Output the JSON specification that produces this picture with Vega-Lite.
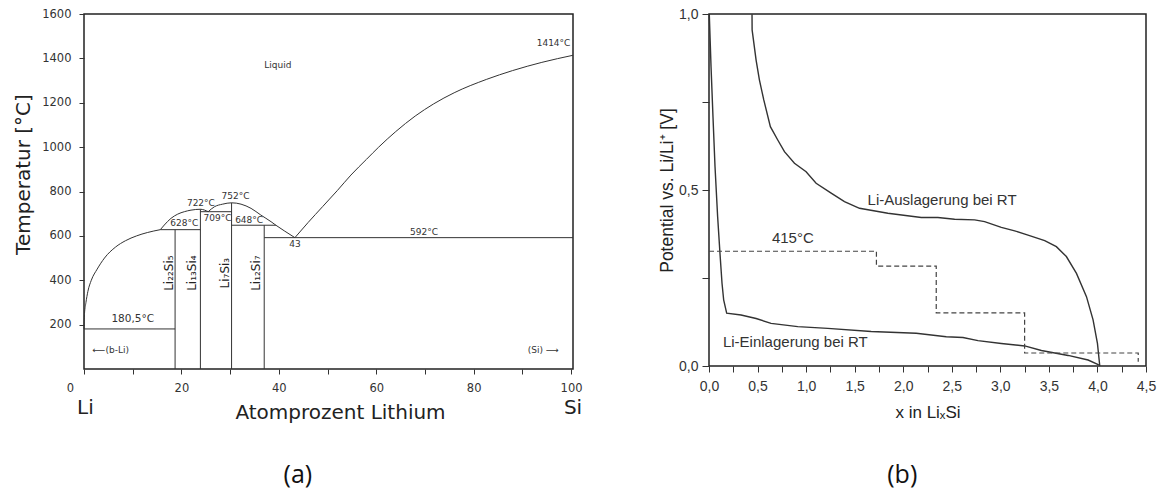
{
  "$schema": "https://vega.github.io/schema/vega-lite/v6.json",
  "padding": {"left": 12, "top": 6, "right": 5, "bottom": 0},
  "background": "white",
  "spacing": 136,
  "bounds": "flush",
  "config": {
    "view": {"stroke": "#222", "strokeWidth": 1.5},
    "axis": {"grid": false, "domain": false, "tickColor": "#333", "labelColor": "#333", "titleColor": "#222", "titleFontWeight": "normal"}
  },
  "hconcat": [
    {
      "width": 489,
      "height": 355,
      "encoding": {
        "x": {"field": "x", "type": "quantitative", "scale": {"domain": [0, 100.4], "nice": false, "zero": false},
          "axis": {"values": [0, 10, 20, 30, 40, 50, 60, 70, 80, 90, 100],
            "labelExpr": "datum.value % 20 == 0 ? datum.label : ''",
            "labelFont": "DejaVu Sans", "labelFontSize": 11.5, "labelFlush": false,
            "labelOffset": {"expr": "datum.value == 0 ? -14 : 0"},
            "tickSize": 5, "labelPadding": 8,
            "title": "Atomprozent Lithium", "titleFont": "DejaVu Sans", "titleFontSize": 20,
            "titleX": 256, "titleY": 49, "titleBaseline": "alphabetic", "titleAlign": "center"}},
        "y": {"field": "T", "type": "quantitative", "scale": {"domain": [0, 1600], "nice": false, "zero": false},
          "axis": {"values": [200, 400, 600, 800, 1000, 1200, 1400, 1600], "format": "d",
            "labelFont": "DejaVu Sans", "labelFontSize": 11.5, "tickSize": 5, "labelPadding": 8,
            "title": "Temperatur [°C]", "titleFont": "DejaVu Sans", "titleFontSize": 20,
            "titleX": -51, "titleY": 160, "titleBaseline": "bottom", "titleAlign": "center", "titleAngle": -90}}
      },
      "layer": [
        {
          "data": {"values": [
            {"seg": "A", "x": 0, "T": 180.5}, {"seg": "A", "x": 0.1, "T": 250}, {"seg": "A", "x": 0.4, "T": 300},
            {"seg": "A", "x": 0.8, "T": 350}, {"seg": "A", "x": 1.5, "T": 400}, {"seg": "A", "x": 2.7, "T": 450},
            {"seg": "A", "x": 4.2, "T": 500}, {"seg": "A", "x": 6.5, "T": 550}, {"seg": "A", "x": 8.5, "T": 578},
            {"seg": "A", "x": 10.8, "T": 600}, {"seg": "A", "x": 13, "T": 615}, {"seg": "A", "x": 15.67, "T": 628},
            {"seg": "B", "x": 15.67, "T": 628}, {"seg": "B", "x": 16.49, "T": 649}, {"seg": "B", "x": 17.86, "T": 679},
            {"seg": "B", "x": 19.24, "T": 698}, {"seg": "B", "x": 20.6, "T": 709}, {"seg": "B", "x": 21.97, "T": 716},
            {"seg": "B", "x": 23.9, "T": 720}, {"seg": "B", "x": 25.5, "T": 709},
            {"seg": "D", "x": 25.5, "T": 709}, {"seg": "D", "x": 26.76, "T": 731}, {"seg": "D", "x": 28.47, "T": 743},
            {"seg": "D", "x": 30.3, "T": 749}, {"seg": "D", "x": 32.24, "T": 743}, {"seg": "D", "x": 34.3, "T": 724},
            {"seg": "D", "x": 36.3, "T": 694}, {"seg": "D", "x": 38.4, "T": 664}, {"seg": "D", "x": 39.4, "T": 648},
            {"seg": "D", "x": 41.1, "T": 623}, {"seg": "D", "x": 43.3, "T": 592},
            {"seg": "E", "x": 43.3, "T": 592}, {"seg": "E", "x": 46, "T": 660}, {"seg": "E", "x": 49, "T": 732},
            {"seg": "E", "x": 52, "T": 804}, {"seg": "E", "x": 54.8, "T": 874}, {"seg": "E", "x": 58, "T": 945},
            {"seg": "E", "x": 60.5, "T": 1000}, {"seg": "E", "x": 64, "T": 1070}, {"seg": "E", "x": 68, "T": 1140},
            {"seg": "E", "x": 71.8, "T": 1195}, {"seg": "E", "x": 76, "T": 1245}, {"seg": "E", "x": 82.6, "T": 1305},
            {"seg": "E", "x": 88, "T": 1345}, {"seg": "E", "x": 94, "T": 1382}, {"seg": "E", "x": 100.4, "T": 1414}
          ]},
          "mark": {"type": "line", "interpolate": "monotone", "color": "#333", "strokeWidth": 1},
          "encoding": {"detail": {"field": "seg"}}
        },
        {
          "data": {"values": [
            {"x": 18.7, "x2": 18.7, "T": 0, "T2": 628},
            {"x": 23.9, "x2": 23.9, "T": 0, "T2": 720},
            {"x": 30.3, "x2": 30.3, "T": 0, "T2": 749},
            {"x": 37.0, "x2": 37.0, "T": 0, "T2": 648},
            {"x": 0, "x2": 18.7, "T": 180.5, "T2": 180.5},
            {"x": 15.67, "x2": 23.9, "T": 628, "T2": 628},
            {"x": 23.9, "x2": 30.3, "T": 709, "T2": 709},
            {"x": 30.3, "x2": 39.4, "T": 648, "T2": 648},
            {"x": 37.0, "x2": 100.4, "T": 592, "T2": 592}
          ]},
          "mark": {"type": "rule", "color": "#333", "strokeWidth": 1},
          "encoding": {"x2": {"field": "x2"}, "y2": {"field": "T2"}}
        },
        {
          "data": {"values": [
            {"x": 39.8, "T": 1370, "label": "Liquid"},
            {"x": 96.4, "T": 1468, "label": "1414°C"},
            {"x": 24.0, "T": 749, "label": "722°C"},
            {"x": 31.1, "T": 780, "label": "752°C"},
            {"x": 20.6, "T": 656, "label": "628°C"},
            {"x": 27.4, "T": 679, "label": "709°C"},
            {"x": 33.9, "T": 671, "label": "648°C"},
            {"x": 43.3, "T": 563, "label": "43"},
            {"x": 69.8, "T": 616, "label": "592°C"},
            {"x": 5.5, "T": 86, "label": "⟵(b-Li)"},
            {"x": 94.3, "T": 86, "label": "(Si)   ⟶"}
          ]},
          "mark": {"type": "text", "font": "DejaVu Sans", "fontSize": 9, "color": "#333", "baseline": "middle", "align": "center"},
          "encoding": {"text": {"field": "label"}}
        },
        {
          "data": {"values": [{"x": 10.0, "T": 225, "label": "180,5°C"}]},
          "mark": {"type": "text", "font": "DejaVu Sans", "fontSize": 10.5, "color": "#333", "baseline": "middle", "align": "center"},
          "encoding": {"text": {"field": "label"}}
        },
        {
          "data": {"values": [
            {"x": 17.4, "T": 432, "label": "Li₂₂Si₅"},
            {"x": 22.2, "T": 432, "label": "Li₁₃Si₄"},
            {"x": 28.9, "T": 432, "label": "Li₇Si₃"},
            {"x": 35.4, "T": 432, "label": "Li₁₂Si₇"}
          ]},
          "mark": {"type": "text", "font": "DejaVu Sans", "fontSize": 12, "color": "#222", "baseline": "middle", "align": "center", "angle": 270},
          "encoding": {"text": {"field": "label"}}
        },
        {
          "data": {"values": [
            {"x": 0.3, "T": -203, "label": "Li"},
            {"x": 100.4, "T": -203, "label": "Si"}
          ]},
          "mark": {"type": "text", "font": "DejaVu Sans", "fontSize": 20, "color": "#222", "baseline": "alphabetic", "align": "center"},
          "encoding": {"text": {"field": "label"}}
        },
        {
          "data": {"values": [{"x": 43.9, "T": -514, "label": "(a)"}]},
          "mark": {"type": "text", "font": "Open Sans", "fontSize": 25, "color": "#111", "baseline": "alphabetic", "align": "center"},
          "encoding": {"text": {"field": "label"}}
        }
      ]
    },
    {
      "width": 437,
      "height": 352,
      "encoding": {
        "x": {"field": "x", "type": "quantitative", "scale": {"domain": [0, 4.5], "nice": false, "zero": false},
          "axis": {"values": [0, 0.25, 0.5, 0.75, 1, 1.25, 1.5, 1.75, 2, 2.25, 2.5, 2.75, 3, 3.25, 3.5, 3.75, 4, 4.25, 4.5],
            "labelExpr": "(datum.value * 2) % 1 == 0 ? replace(format(datum.value, '.1f'), '.', ',') : ''",
            "labelFont": "Liberation Sans", "labelFontSize": 14, "labelFlush": false,
            "tickSize": 6, "labelPadding": 7,
            "title": "x in LiₓSi", "titleFont": "Liberation Sans", "titleFontSize": 17,
            "titleX": 218.5, "titleY": 51, "titleBaseline": "alphabetic", "titleAlign": "center"}},
        "y": {"field": "V", "type": "quantitative", "scale": {"domain": [0, 1], "nice": false, "zero": false},
          "axis": {"values": [0, 0.25, 0.5, 0.75, 1],
            "labelExpr": "(datum.value * 2) % 1 == 0 ? replace(format(datum.value, '.1f'), '.', ',') : ''",
            "labelFont": "Liberation Sans", "labelFontSize": 14, "labelFlush": false, "tickSize": 7, "labelPadding": 4,
            "title": "Potential vs. Li/Li⁺ [V]", "titleFont": "Liberation Sans", "titleFontSize": 17.5,
            "titleX": -33, "titleY": 176, "titleBaseline": "bottom", "titleAlign": "center", "titleAngle": -90}}
      },
      "layer": [
        {
          "data": {"values": [
            {"curve": "Einlagerung", "x": 0.003, "V": 0.999}, {"curve": "Einlagerung", "x": 0.021, "V": 0.85},
            {"curve": "Einlagerung", "x": 0.041, "V": 0.708}, {"curve": "Einlagerung", "x": 0.062, "V": 0.566},
            {"curve": "Einlagerung", "x": 0.089, "V": 0.424}, {"curve": "Einlagerung", "x": 0.113, "V": 0.32},
            {"curve": "Einlagerung", "x": 0.134, "V": 0.235}, {"curve": "Einlagerung", "x": 0.151, "V": 0.188},
            {"curve": "Einlagerung", "x": 0.182, "V": 0.15}, {"curve": "Einlagerung", "x": 0.33, "V": 0.145},
            {"curve": "Einlagerung", "x": 0.485, "V": 0.135}, {"curve": "Einlagerung", "x": 0.639, "V": 0.121},
            {"curve": "Einlagerung", "x": 0.914, "V": 0.112}, {"curve": "Einlagerung", "x": 1.223, "V": 0.107},
            {"curve": "Einlagerung", "x": 1.67, "V": 0.098}, {"curve": "Einlagerung", "x": 2.134, "V": 0.093},
            {"curve": "Einlagerung", "x": 2.443, "V": 0.083}, {"curve": "Einlagerung", "x": 2.615, "V": 0.081},
            {"curve": "Einlagerung", "x": 2.77, "V": 0.072}, {"curve": "Einlagerung", "x": 3.01, "V": 0.064},
            {"curve": "Einlagerung", "x": 3.251, "V": 0.057}, {"curve": "Einlagerung", "x": 3.423, "V": 0.044},
            {"curve": "Einlagerung", "x": 3.698, "V": 0.03}, {"curve": "Einlagerung", "x": 3.904, "V": 0.017},
            {"curve": "Einlagerung", "x": 4.014, "V": 0.003},
            {"curve": "Auslagerung", "x": 0.443, "V": 0.999}, {"curve": "Auslagerung", "x": 0.444, "V": 0.955},
            {"curve": "Auslagerung", "x": 0.485, "V": 0.869}, {"curve": "Auslagerung", "x": 0.519, "V": 0.813},
            {"curve": "Auslagerung", "x": 0.564, "V": 0.756}, {"curve": "Auslagerung", "x": 0.632, "V": 0.68},
            {"curve": "Auslagerung", "x": 0.708, "V": 0.642}, {"curve": "Auslagerung", "x": 0.777, "V": 0.609},
            {"curve": "Auslagerung", "x": 0.88, "V": 0.576}, {"curve": "Auslagerung", "x": 1.0, "V": 0.552},
            {"curve": "Auslagerung", "x": 1.103, "V": 0.519}, {"curve": "Auslagerung", "x": 1.258, "V": 0.491},
            {"curve": "Auslagerung", "x": 1.395, "V": 0.467}, {"curve": "Auslagerung", "x": 1.55, "V": 0.448},
            {"curve": "Auslagerung", "x": 1.842, "V": 0.434}, {"curve": "Auslagerung", "x": 2.186, "V": 0.422},
            {"curve": "Auslagerung", "x": 2.357, "V": 0.422}, {"curve": "Auslagerung", "x": 2.529, "V": 0.417},
            {"curve": "Auslagerung", "x": 2.735, "V": 0.415}, {"curve": "Auslagerung", "x": 2.838, "V": 0.41},
            {"curve": "Auslagerung", "x": 3.01, "V": 0.394}, {"curve": "Auslagerung", "x": 3.148, "V": 0.384},
            {"curve": "Auslagerung", "x": 3.285, "V": 0.372}, {"curve": "Auslagerung", "x": 3.457, "V": 0.356},
            {"curve": "Auslagerung", "x": 3.577, "V": 0.339}, {"curve": "Auslagerung", "x": 3.68, "V": 0.311},
            {"curve": "Auslagerung", "x": 3.784, "V": 0.263}, {"curve": "Auslagerung", "x": 3.887, "V": 0.197},
            {"curve": "Auslagerung", "x": 3.955, "V": 0.131}, {"curve": "Auslagerung", "x": 4.0, "V": 0.064},
            {"curve": "Auslagerung", "x": 4.024, "V": 0.0}
          ]},
          "mark": {"type": "line", "color": "#333", "strokeWidth": 1.4},
          "encoding": {"detail": {"field": "curve"}}
        },
        {
          "data": {"values": [
            {"step": 1, "x": 0, "V": 0.326}, {"step": 2, "x": 1.724, "V": 0.326},
            {"step": 3, "x": 1.724, "V": 0.284}, {"step": 4, "x": 2.34, "V": 0.284},
            {"step": 5, "x": 2.34, "V": 0.151}, {"step": 6, "x": 3.25, "V": 0.151},
            {"step": 7, "x": 3.25, "V": 0.037}, {"step": 8, "x": 4.42, "V": 0.037},
            {"step": 9, "x": 4.42, "V": 0.012}
          ]},
          "mark": {"type": "line", "color": "#444", "strokeWidth": 1.2, "strokeDash": [5, 3]},
          "encoding": {"order": {"field": "step"}}
        },
        {
          "data": {"values": [
            {"x": 0.863, "V": 0.363, "label": "415°C"},
            {"x": 2.4, "V": 0.472, "label": "Li-Auslagerung bei RT"},
            {"x": 0.889, "V": 0.069, "label": "Li-Einlagerung bei RT"}
          ]},
          "mark": {"type": "text", "font": "Liberation Sans", "fontSize": 15, "color": "#333", "baseline": "middle", "align": "center"},
          "encoding": {"text": {"field": "label"}}
        },
        {
          "data": {"values": [{"x": 1.99, "V": -0.332, "label": "(b)"}]},
          "mark": {"type": "text", "font": "Open Sans", "fontSize": 25, "color": "#111", "baseline": "alphabetic", "align": "center"},
          "encoding": {"text": {"field": "label"}}
        }
      ]
    }
  ]
}
